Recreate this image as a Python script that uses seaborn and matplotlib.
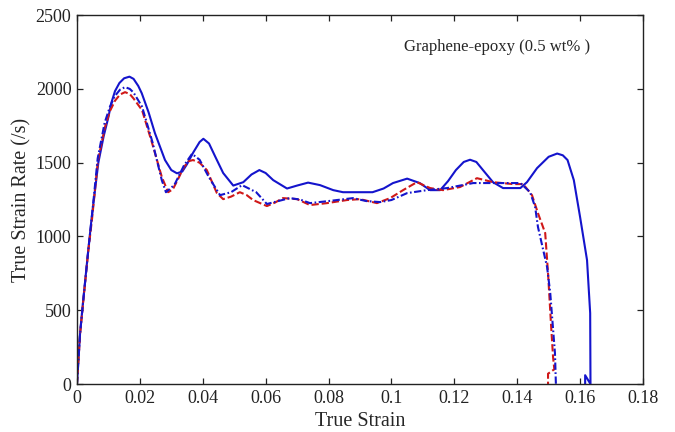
import numpy as np
import pandas as pd
import seaborn as sns
import matplotlib
matplotlib.use("Agg")
import matplotlib.pyplot as plt

# Specimen 1 (solid blue)
strain_1 = [0, 0.0010, 0.0020, 0.0036, 0.0047, 0.0068, 0.0085, 0.0099, 0.0110, 0.0121,
            0.0135, 0.0150, 0.0167, 0.0180, 0.0195, 0.0206, 0.0228, 0.0248, 0.0280, 0.0300,
            0.0318, 0.0335, 0.0350, 0.0370, 0.0390, 0.0402, 0.0420, 0.0440, 0.0465, 0.0497,
            0.0529, 0.0555, 0.0580, 0.0600, 0.0624, 0.0668, 0.0700, 0.0735, 0.0773, 0.0815,
            0.0846, 0.0900, 0.0940, 0.0975, 0.1005, 0.1050, 0.1090, 0.1123, 0.1155, 0.1180,
            0.1205, 0.1230, 0.1250, 0.1270, 0.1295, 0.1323, 0.1355, 0.1410, 0.1431, 0.1463,
            0.1500, 0.1527, 0.1545, 0.1560, 0.1580, 0.1600, 0.1622, 0.1632, 0.1633, 0.1616,
            0.1616]
rate_1 = [0, 345, 570, 908, 1131, 1500, 1680, 1800, 1910, 1985,
          2040, 2072, 2083, 2068, 2020, 1971, 1840, 1700, 1518, 1450,
          1428, 1440, 1490, 1570, 1640, 1662, 1630, 1540, 1430, 1345,
          1368, 1420, 1450, 1430, 1382, 1325, 1345, 1365, 1348, 1314,
          1300, 1300, 1300, 1325, 1362, 1392, 1362, 1314, 1314, 1375,
          1450, 1505, 1520, 1505, 1440, 1368, 1328, 1328, 1368, 1463,
          1540, 1562, 1550, 1518, 1382, 1131, 840, 481, 0, 60,
          0]

# Specimen 2 (red dashed)
strain_2 = [0, 0.0010, 0.0020, 0.0036, 0.0048, 0.0067, 0.0089, 0.0105, 0.0121, 0.0137,
            0.0153, 0.0168, 0.0180, 0.0207, 0.0239, 0.0270, 0.0290, 0.0305, 0.0320, 0.0340,
            0.0355, 0.0369, 0.0390, 0.0413, 0.0445, 0.0465, 0.0490, 0.0518, 0.0540, 0.0560,
            0.0604, 0.0630, 0.0655, 0.0700, 0.0741, 0.0795, 0.0859, 0.0900, 0.0954, 0.0996,
            0.1037, 0.1081, 0.1123, 0.1164, 0.1218, 0.1272, 0.1323, 0.1387, 0.1419, 0.1447,
            0.1466, 0.1489, 0.1498, 0.1508, 0.1514, 0.1518, 0.1498, 0.1498]
rate_2 = [0, 340, 560, 900, 1120, 1518, 1741, 1850, 1920, 1962,
          1978, 1965, 1935, 1856, 1633, 1402, 1300, 1320, 1382, 1470,
          1510, 1518, 1500, 1450, 1294, 1253, 1270, 1300, 1280, 1247,
          1206, 1230, 1260, 1253, 1213, 1226, 1247, 1253, 1226, 1260,
          1314, 1368, 1328, 1314, 1335, 1395, 1368, 1355, 1355, 1280,
          1158, 1023, 752, 386, 183, 100, 70, 0]

# Specimen 3 (blue dash-dot)
strain_3 = [0, 0.0010, 0.0020, 0.0036, 0.0047, 0.0066, 0.0088, 0.0105, 0.0120, 0.0137,
            0.0153, 0.0168, 0.0180, 0.0207, 0.0240, 0.0270, 0.0283, 0.0310, 0.0340, 0.0366,
            0.0390, 0.0420, 0.0455, 0.0490, 0.0525, 0.0570, 0.0604, 0.0640, 0.0677, 0.0710,
            0.0741, 0.0800, 0.0878, 0.0920, 0.0964, 0.1000, 0.1050, 0.1113, 0.1177, 0.1260,
            0.1323, 0.1410, 0.1441, 0.1457, 0.1466, 0.1495, 0.1505, 0.1520, 0.1523]
rate_3 = [0, 345, 565, 905, 1125, 1530, 1770, 1880, 1950, 1995,
          2012, 2000, 1975, 1880, 1640, 1380, 1300, 1350, 1480, 1560,
          1520, 1400, 1280, 1300, 1348, 1300, 1220, 1240, 1260, 1250,
          1226, 1240, 1260, 1240, 1233, 1247, 1294, 1314, 1328, 1362,
          1362, 1362, 1300, 1200, 1064, 793, 617, 210, 0]

x_ticks = [0, 0.02, 0.04, 0.06, 0.08, 0.1, 0.12, 0.14, 0.16, 0.18]
x_tick_labels = ["0", "0.02", "0.04", "0.06", "0.08", "0.1", "0.12", "0.14", "0.16", "0.18"]
y_ticks = [0, 500, 1000, 1500, 2000, 2500]
annotation = "Graphene-epoxy (0.5 wt% )"

df = pd.concat([
    pd.DataFrame({"strain": strain_1, "rate": rate_1, "specimen": "S1"}),
    pd.DataFrame({"strain": strain_2, "rate": rate_2, "specimen": "S2"}),
    pd.DataFrame({"strain": strain_3, "rate": rate_3, "specimen": "S3"}),
], ignore_index=True)

sns.set_theme(style="ticks")
plt.rcParams["font.family"] = ["Liberation Serif", "DejaVu Serif"]
plt.rcParams["xtick.direction"] = "in"
plt.rcParams["ytick.direction"] = "in"

fig = plt.figure(figsize=(6.75, 4.32), dpi=100)
ax = fig.add_axes([0.114, 0.111, 0.8386, 0.854])

palette = {"S1": "#1414cc", "S2": "#d01818", "S3": "#1414cc"}
dashes = {"S1": "", "S2": (3.5, 1.4), "S3": (3.5, 1.2, 0.8, 1.2)}
sns.lineplot(data=df, x="strain", y="rate", hue="specimen", style="specimen",
             palette=palette, dashes=dashes, sort=False, estimator=None,
             linewidth=1.5, legend=False, ax=ax)

ax.set_xlim(0, 0.18)
ax.set_ylim(0, 2500)
ax.set_xticks(x_ticks)
ax.set_xticklabels(x_tick_labels)
ax.set_yticks(y_ticks)
ax.tick_params(axis="both", which="both", top=True, right=True, length=4,
               width=0.9, labelsize=13, colors="#222222", pad=4)
for side in ["top", "right", "bottom", "left"]:
    ax.spines[side].set_visible(True)
    ax.spines[side].set_linewidth(1.0)
    ax.spines[side].set_color("#222222")

ax.set_xlabel("True Strain", fontsize=14.5, labelpad=4)
ax.set_ylabel("True Strain Rate (/s)", fontsize=14.5, labelpad=3)
ax.text(0.1336, 2283, annotation, fontsize=12, ha="center", va="center")

fig.savefig("out.png", dpi=100)
